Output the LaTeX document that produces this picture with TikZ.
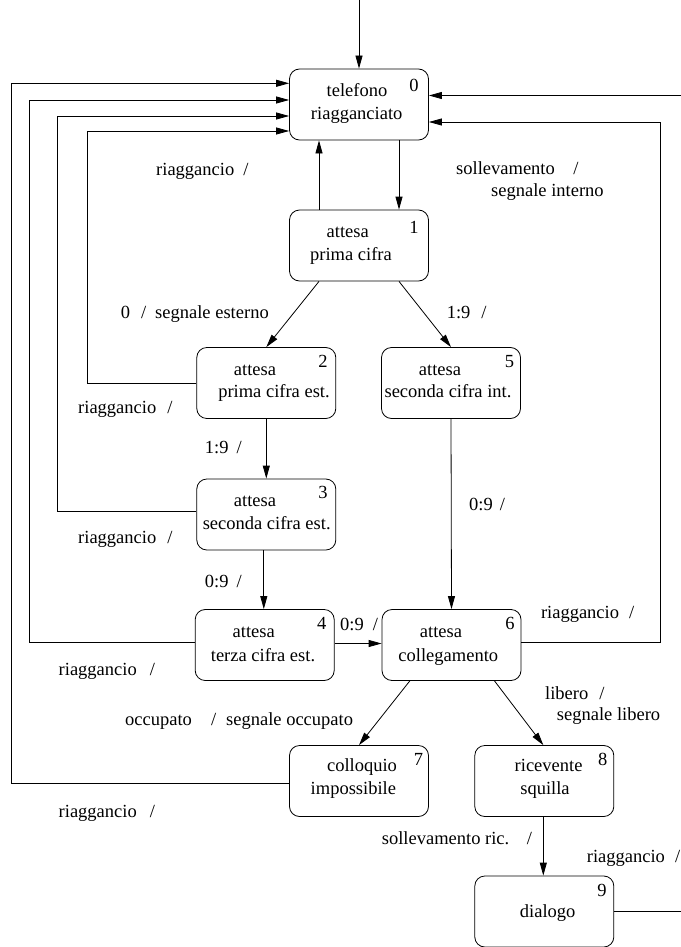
\documentclass[tikz,border=0pt]{standalone}
\usepackage{fontspec}
\setmainfont{Liberation Serif}
\newfontfamily\lserif{Liberation Serif}
\usetikzlibrary{arrows.meta}
\begin{document}
\begin{tikzpicture}[x=1pt,y=-1pt,
  every node/.style={font=\lserif\fontsize{18.5}{22}\selectfont},
  statebox/.style={draw,line width=0.8pt,rounded corners=10pt,minimum width=139pt,minimum height=71pt,inner sep=0pt},
  txt/.style={inner sep=0pt,anchor=mid},
  lbl/.style={inner sep=0pt,anchor=mid west},
  arr/.style={line width=0.8pt,-{Triangle[length=13pt,width=7pt]}},
  ln/.style={line width=0.8pt}]
\useasboundingbox (0,0) rectangle (680,947);
% boxes
\node[statebox] (n0) at (359,104.5) {};
\node[statebox] (n1) at (359,245.5) {};
\node[statebox] (n2) at (266.3,383) {};
\node[statebox] (n5) at (451,383) {};
\node[statebox] (n3) at (266.3,514.5) {};
\node[statebox] (n4) at (264.7,645) {};
\node[statebox] (n6) at (451.5,645) {};
\node[statebox] (n7) at (359,781) {};
\node[statebox] (n8) at (544.3,781) {};
\node[statebox] (n9) at (544.3,911.5) {};
% box texts
\node[txt] (t0a) at (357,94) {telefono};
\node[txt] (t0b) at (356.7,117.5) {riagganciato};
\node[txt] (t0n) at (414,89.5) {0};
\node[txt] (t1a) at (347.8,235.5) {attesa};
\node[txt] (t1b) at (351,258.5) {prima cifra};
\node[txt] (t1n) at (414,231) {1};
\node[txt] (t2a) at (255,373) {attesa};
\node[txt] (t2b) at (274,395) {prima cifra est.};
\node[txt] (t2n) at (323,365) {2};
\node[txt] (t5a) at (440,373) {attesa};
\node[txt] (t5b) at (448,395) {seconda cifra int.};
\node[txt] (t5n) at (509.5,365) {5};
\node[txt] (t3a) at (255,504) {attesa};
\node[txt] (t3b) at (266.7,527.5) {seconda cifra est.};
\node[txt] (t3n) at (323,496) {3};
\node[txt] (t4a) at (253.7,635) {attesa};
\node[txt] (t4b) at (263,659.5) {terza cifra est.};
\node[txt] (t4n) at (321.8,627) {4};
\node[txt] (t6a) at (441,635) {attesa};
\node[txt] (t6b) at (448.3,659.5) {collegamento};
\node[txt] (t6n) at (510,627) {6};
\node[txt] (t7a) at (362,769.5) {colloquio};
\node[txt] (t7b) at (353.4,792.5) {impossibile};
\node[txt] (t7n) at (418.5,763) {7};
\node[txt] (t8a) at (548.6,769.5) {ricevente};
\node[txt] (t8b) at (545,792.5) {squilla};
\node[txt] (t8n) at (602.8,763) {8};
\node[txt] (t9a) at (547.7,915.5) {dialogo};
\node[txt] (t9n) at (602,894.5) {9};
% labels
\node[lbl] (l1) at (156,173.5) {riaggancio \hspace{4.4pt}/};
\node[lbl] (l2) at (456,172.5) {sollevamento \hspace{14pt}/};
\node[lbl] (l3) at (491,194) {segnale interno};
\node[lbl] (l4) at (120.6,316.5) {0 \hspace{6.4pt}/ \hspace{4.4pt}segnale esterno};
\node[lbl] (l5) at (446.6,316.5) {1:9 \hspace{6.4pt}/};
\node[lbl] (l6) at (78,411) {riaggancio \hspace{6.4pt}/};
\node[lbl] (l7) at (204.7,451.5) {1:9 \hspace{3.4pt}/};
\node[lbl] (l8) at (469,508) {0:9 \hspace{2.4pt}/};
\node[lbl] (l9) at (78,541.5) {riaggancio \hspace{6.4pt}/};
\node[lbl] (l10) at (204.7,585.5) {0:9 \hspace{3.4pt}/};
\node[lbl] (l11) at (340,628.5) {0:9 \hspace{4.4pt}/};
\node[lbl] (l12) at (540.8,616.5) {riaggancio \hspace{5.4pt}/};
\node[lbl] (l13) at (58.5,673) {riaggancio \hspace{8.4pt}/};
\node[lbl] (l14) at (545,697.5) {libero \hspace{6.4pt}/};
\node[lbl] (l15) at (556.7,718) {segnale libero};
\node[lbl] (l16) at (125,723) {occupato \hspace{14.4pt}/ \hspace{5.4pt}segnale occupato};
\node[lbl] (l17) at (58.5,815) {riaggancio \hspace{8.4pt}/};
\node[lbl] (l18) at (381.7,842.5) {sollevamento ric. \hspace{11.4pt}/};
\node[lbl] (l19) at (586.7,860) {riaggancio \hspace{5.4pt}/};
% connectors
\coordinate (start) at (359,0);
\draw[arr] (start) -- (n0.north);
\draw[arr] ([xshift=-40pt]n1.north) -- ([xshift=-40pt]n0.south);
\draw[arr] ([xshift=40pt]n0.south) -- ([xshift=40pt]n1.north);
\draw[arr] ([xshift=-40pt]n1.south) -- (n2.north);
\draw[arr] ([xshift=40pt]n1.south) -- (n5.north);
\draw[arr] (n2.south) -- (n3.north);
\draw[arr] ([xshift=-2.5pt]n3.south) -- ([xshift=-2.5pt]n3.south |- n4.north);
\draw[arr] ([yshift=1.5pt]n4.east) -- ([yshift=1.5pt]n4.east -| n6.west);
\draw[arr] (n5.south) -- (n6.north);
\draw[arr] ([xshift=-41.7pt]n6.south) -- (n7.north);
\draw[arr] ([xshift=43pt]n6.south) -- ([xshift=-1pt]n8.north);
\draw[arr] ([xshift=-1pt]n8.south) -- ([xshift=-1pt]n9.north);
% riaggancio returns
\draw[arr] (n2.west) -- ++(-108.8,0) |- ([yshift=-26.5pt]n0.west);
\draw[arr] ([yshift=3pt]n3.west) -- ++(-138.8,0) |- ([yshift=-11.5pt]n0.west);
\draw[arr] ([yshift=2.5pt]n4.west) -- ++(-165.2,0) |- ([yshift=4.5pt]n0.west);
\draw[arr] ([yshift=-2pt]n7.west) -- ++(-277.8,0) |- ([yshift=21.2pt]n0.west);
\draw[arr] ([yshift=2.5pt]n6.east) -- ++(139,0) |- ([yshift=-17.5pt]n0.east);
\draw[arr] (n9.east) -- ++(68.2,0) |- ([yshift=9pt]n0.east);
\end{tikzpicture}
\end{document}
